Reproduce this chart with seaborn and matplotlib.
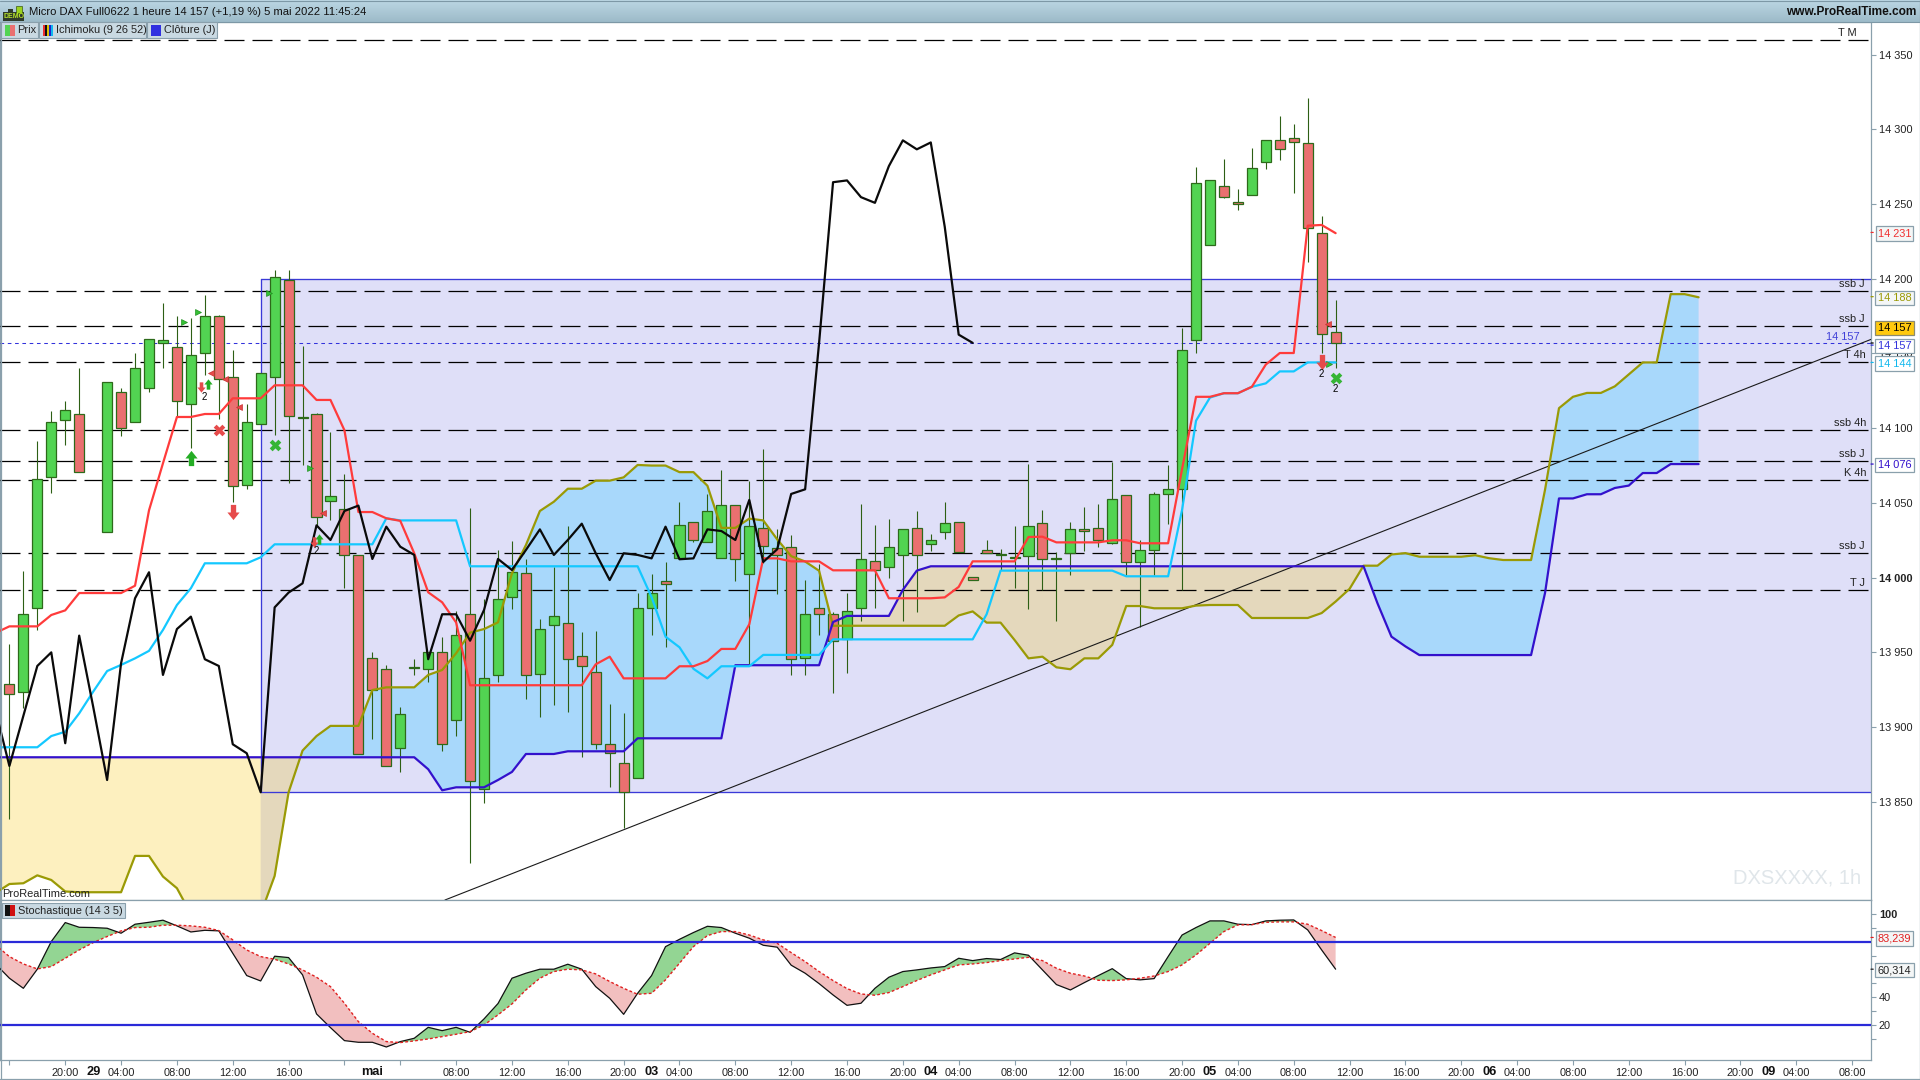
import numpy as np
import matplotlib
matplotlib.use("Agg")
import matplotlib.pyplot as plt
from matplotlib.patches import Rectangle
from matplotlib.path import Path
from matplotlib.transforms import blended_transform_factory
import seaborn as sns

nan = float("nan")

# ---------- price candles, one slot per hour (slot 6 is empty) ----------
open_ = [13928.6,13923.3,13979.5,14067.6,14105.7,14109.3,nan,14030.3,14124,14104,
 14126.7,14156.8,14154,14116,14150,14174.9,14134.5,14061.8,14103,14134,
 14199,14107.5,14109.3,14051,14046,14015,13946,13938.7,13885.8,13939.3,
 13938.7,13950,13905,13976,13858.4,13935,13987.3,14002.9,13935.3,13968,
 13969.9,13947.4,13936.7,13888.9,13875.8,13865.7,13979.9,13997.5,14013,14037,
 14024,14013,14048.4,14002.2,14033,14020,14020.7,13946,13980,13975.5,
 13959,13979.5,14010.9,14006.9,14015,14033,14022.3,14030.3,14037,14000.2,
 14018.3,14015,14013,14014.3,14036.4,14012.7,14016.3,14032.3,14033,14023,
 14055,14010.3,14018.3,14055.7,14059.5,14158.8,14222.8,14261.8,14251.5,14256.3,
 14277.8,14292.7,14294.5,14290.6,14230.5,14164.1]
close = [13922.4,13975.5,14065.8,14104,14112,14071,nan,14130.7,14100,14140,
 14160,14158.8,14118,14148.8,14174.9,14132.7,14061,14104,14136.7,14201,
 14108,14107,14040.4,14054.4,14015,13881.8,13924.6,13873.8,13909,13940.4,
 13950,13889,13961.4,13864,13933,13986,14004,13934.7,13965.4,13974,
 13945.4,13940.7,13888.5,13882.5,13856.4,13979.9,13989.5,13996,14035,14025,
 14044.4,14048.4,14012.3,14034.3,14021,14015,13945.4,13975.5,13975.5,13957.4,
 13978,14012.3,14004.9,14020.7,14032.3,14015,14025,14036.4,14017,13998.2,
 14016.3,14015,14013,14034.3,14012.3,14013.2,14032.3,14031,14025,14052.4,
 14010.3,14018.3,14055.7,14059.1,14152,14264.4,14265.8,14254.6,14250.3,14274,
 14292.6,14286.7,14291.3,14233.7,14162.7,14156.7]
high = [13955.4,14004.4,14091.5,14111.5,14118,14140,nan,14130.7,14126.7,14150,
 14160,14183.8,14175,14173.5,14189,14175.8,14152,14116,14136.7,14206,
 14206,14155,14110.4,14097.5,14069.3,14015,13950,13941.6,13913.5,13945.6,
 13950,13960.5,13977.7,14046.8,13985.7,14018.5,14024.5,14012.5,13972.3,14007.4,
 14034.6,13963.9,13964.3,13915.5,13909.2,13989.5,14002.5,14010.5,14050.6,14037,
 14056,14072,14048.4,14065,14086,14032.6,14028.5,13998.4,14009,13977,
 13989.5,14049,14035,14039,14032.3,14044.6,14029.2,14050.6,14037,14000.2,
 14025.2,14019,14034.6,14076,14045.3,14017,14037,14047.3,14049.3,14077.6,
 14055,14025,14057,14075.4,14167,14274.7,14265.8,14280,14259.9,14287.3,
 14292.6,14308.8,14303.5,14321,14242,14185.5]
low = [13838.3,13913,13965,14056.9,14088.8,14071,nan,14030.3,14095,14104,
 14124.5,14140,14107.8,14087,14135.6,14106,14050.8,14059.6,14103,14095.5,
 14063.6,14075.6,14034.5,14038.6,13993.3,13881.8,13892,13873.8,13870,13934.9,
 13930.4,13884,13894.3,13809.3,13849.5,13930.4,13979,13918.8,13907,13914.8,
 13910.3,13880.2,13885.4,13860.2,13832.3,13865.7,13961.6,13953.8,14013,14024,
 14024,14013,13998,13941.6,14010,13989,13934.9,13934.9,13961.6,13923,
 13936.4,13971,13980,14000,13971,13977.3,14017.8,14025.9,14017,13998.2,
 14016.3,14005,13993.3,13979,13991.8,13971,14002,14017.8,14020.7,14022.3,
 14001.8,13967,14001.8,14035.9,13991.5,14150.6,14222.8,14253.9,14246.2,14256.3,
 14273.7,14279.5,14257.7,14210.9,14150.3,14140.6]

# ---------- Ichimoku, every series starts one slot left of the first candle ----------
tenkan = [13963,13967.4,13967.4,13967.4,13975,13978.1,13989.7,13989.7,13989.7,13989.7,13994.6,
 14045,14076.5,14107.5,14107.5,14109.5,14109.5,14120,14120,14120,14128.7,
 14128.7,14128.7,14118.9,14118.9,14098.6,14043.9,14043.9,14039.7,14038,14016.3,
 13990.2,13983.5,13970,13928,13928,13928,13928,13928,13928,13928,
 13928,13928,13942,13947.1,13932.6,13932.6,13932.6,13932.6,13940.7,13940.7,
 13944.2,13952.3,13952.3,13968.8,14012.9,14012.9,14010.9,14010.9,14010.9,14004.9,
 14004.9,14004.9,14004.9,13986.2,13986.2,13986.2,13986.2,13986.8,13993.8,14010.9,
 14010.9,14010.9,14010.9,14027.2,14027.4,14023.6,14023.6,14023.6,14023.6,14025,
 14025,14023,14023,14023,14072.6,14121,14121,14123.4,14123.4,14127.7,
 14142.6,14150.3,14150.3,14235.5,14236,14230.5]
kijun = [13886.5,13886.5,13886.5,13886.5,13894,13896.9,13909.2,13923.7,13937.5,13941.6,13946,
 13951,13965,13981.7,13992.9,14009.6,14009.6,14009.6,14009.6,14013.6,14022.3,
 14022.3,14022.3,14022.3,14022.3,14022.3,14022.3,14022.3,14039.7,14038.3,14038.3,
 14038.3,14038.3,14038.3,14007.6,14007.6,14007.6,14007.6,14007.6,14007.6,14007.6,
 14007.6,14007.6,14007.6,14007.6,14007.6,14007.6,13987,13960.5,13953.4,13939,
 13932.6,13940.7,13940.7,13940.7,13948.3,13948.3,13948.3,13948.3,13948.3,13958.7,
 13958.7,13958.7,13958.7,13958.7,13958.7,13958.7,13958.7,13958.7,13958.7,13958.7,
 13975.5,14004.7,14004.7,14004.7,14004.7,14004.7,14004.7,14004.7,14004.7,14004.7,
 14000.9,14000.9,14000.9,14000.9,14045.3,14105,14120.5,14123.4,14123.4,14127.7,
 14130,14138,14138,14144,14144,14144]
chikou = [13911.4,13874,13907.5,13940.9,13950,13889.2,13961.2,13913.7,13864.6,13942.7,13986.2,
 14003.6,13934.9,13965.6,13973.9,13945.4,13940.9,13888.5,13882.5,13856.4,13980.1,
 13990,13996.2,14035,14025.2,14044.6,14048.2,14012.5,14034.1,14020.7,14015.2,
 13945.4,13975.5,13975.5,13957.8,13978.4,14012.5,14005.1,14018.5,14032.3,14015.2,
 14025.2,14036.1,14016.3,13998.4,14016.3,14015.2,14012.9,14034.1,14012.3,14012.9,
 14032.3,14031.2,14025.2,14052,14010.5,14019,14056,14059.1,14157.1,14264.6,
 14265.8,14254.6,14250.8,14275.4,14292.6,14286.6,14291.2,14234.8,14162.6,14157.1]
senkou_a = [13789,13795,13795.5,13800.8,13797.7,13790,13789.5,13789.5,13789.5,13789.5,13813.8,
 13813.8,13800,13792.2,13775,13770,13770,13770,13770,13775,13800.4,
 13856.4,13884.3,13894,13900.8,13900.8,13900.8,13924.8,13926.6,13926.6,13926.6,
 13934.9,13938.2,13949.4,13963.2,13965.6,13970.1,14002.9,14021.8,14044.6,14050.8,
 14059.5,14059.5,14064.9,14064.9,14067.1,14075.4,14075,14075,14070.6,14070.6,
 14061.5,14033.3,14033.3,14039.5,14038.3,14025.6,14014.4,14010.8,14004.6,13967.8,
 13967.8,13967.8,13967.8,13967.8,13967.8,13967.8,13967.8,13967.8,13974.7,13977.4,
 13969.9,13969.9,13958.3,13946,13947.1,13940,13938.7,13946,13946,13955,
 13981,13981,13979.5,13979.5,13979.5,13981.3,13981.7,13981.7,13981.7,13973,
 13973,13973,13973,13973,13976.3,13984,13992.5,14008,14008,14015.5,
 14016.4,14014,14014,14014,14014,14015,14013,14011.8,14011.8,14011.8,
 14058.8,14113.4,14121,14123.6,14123.6,14128,14136,14144,14144,14189.7,
 14189.7,14187.6]
senkou_b = [13879.8,13879.8,13879.8,13879.8,13879.8,13879.8,13879.8,13879.8,13879.8,13879.8,13879.8,
 13879.8,13879.8,13879.8,13879.8,13879.8,13879.8,13879.8,13879.8,13879.8,13879.8,
 13879.8,13879.8,13879.8,13879.8,13879.8,13879.8,13879.8,13879.8,13879.8,13879.8,
 13871.8,13857.7,13859.7,13859.7,13859.7,13864.6,13870,13882,13882,13882,
 13883.8,13883.8,13883.8,13883.8,13883.8,13892.5,13892.5,13892.5,13892.5,13892.5,
 13892.5,13892.5,13941.4,13941.4,13941.4,13941.4,13941.4,13941.4,13941.4,13970.3,
 13974.4,13974.4,13974.4,13974.4,13991.8,14004.7,14007.6,14007.6,14007.6,14007.6,
 14007.6,14007.6,14007.6,14007.6,14007.6,14007.6,14007.6,14007.6,14007.6,14007.6,
 14007.6,14007.6,14007.6,14007.6,14007.6,14007.6,14007.6,14007.6,14007.6,14007.6,
 14007.6,14007.6,14007.6,14007.6,14007.6,14007.6,14007.6,14007.6,13982.8,13960.5,
 13954,13948.2,13948.2,13948.2,13948.2,13948.2,13948.2,13948.2,13948.2,13948.2,
 13989.7,14053,14053,14055.8,14055.8,14060,14061.6,14070,14070,14076,
 14076,14076]

# ---------- stochastic (14 3 5) ----------
stoch_k = [64.1,53.8,46.5,60.3,80.3,94,90.6,90.4,89.9,86.3,92.8,
 94.2,95.7,91.6,87.2,88.4,88,71.8,55.7,51.8,69.7,
 68.7,56.2,28,18.1,8.7,7.5,7.5,4.1,8,10.4,
 18.3,15.9,18.3,14.7,24.4,35.5,53.8,57.4,60.3,60.3,
 63.9,60.3,47.7,39.3,27.7,42.9,55.7,76.6,81.9,86.8,
 91.3,90.4,86.3,82.7,77.6,76.2,63.2,57.4,49.9,41.7,
 34.2,35.7,46.5,54.5,58.6,59.8,61.2,62.2,68.2,66.5,
 68,67.3,72.1,70.4,59.8,49.2,45.3,50.6,55.7,60.7,
 53.5,52.6,53.5,69.4,85,90.4,95.2,95.2,92.8,92.5,
 95.2,95.7,95.9,88.7,74.2,60.314]
stoch_d = [77.9,69.4,64.1,60.5,62.2,68.2,74.2,79.5,83.9,88,90.4,
 90.6,92.1,92.1,91.6,90.6,88.2,81.5,74.2,69.4,67.5,
 64.1,59.8,54.5,47.7,35.7,22.4,14,8,7.3,8.5,
 9.9,11.6,13.3,15.2,20,27.3,35.2,45.3,53.8,58.6,
 60.3,59.8,56.9,51.4,46.5,42.2,42.9,52.6,64.6,76.6,
 84.6,87.5,87.5,85,81.5,79,72.3,65.8,58.6,52.1,
 46.3,42.4,41.5,43.4,47.7,52.1,56.2,59.8,63.4,64.1,
 65.1,66.5,67.7,68.9,66.5,61,57.4,55.4,52.3,52.1,
 52.6,53.8,55.4,58.6,63.4,70.6,79,87.5,92.3,92.5,
 94.2,94.5,94.5,92.8,88.2,83.239]

# ---------- levels ----------
level_values = [14359.5,14191.6,14168.2,14144.1,14098.6,14077.9,14065.2,14016.3,13991.5]
level_labels = ["T M","ssb J","ssb J","T 4h","ssb 4h","ssb J","K 4h","ssb J","T J"]
close_day = 14156.8
zone_low, zone_high, zone_start = 13856.4, 14199.6, 18
trend_x, trend_y = [31.2,133.4], [13784.3,14159.6]

# ---------- signals ----------
tri_up_x, tri_up_y = [12.54,13.54,18.57,21.55,94.5], [14171,14177.5,14190.7,14073.2,14142.7]
tri_dn_x, tri_dn_y = [14.42,15.44,16.43,22.43,94.46], [14136.7,14132.7,14114.4,14043,14169.4]
big_up_x, big_up_y = [13], [14079.9]
small_up_x, small_up_y = [14.2,22.2], [14129.4,14025.6]
big_dn_x, big_dn_y = [16,94], [14043.7,14144]
small_dn_x, small_dn_y = [13.7,21.8], [14127.8,14024]
cross_g_x, cross_g_y = [19,95], [14088.6,14133.5]
cross_r_x, cross_r_y = [15], [14098.6]
two_x, two_y = [13.95,21.95,94,95], [14121,14017.8,14136,14126]

# ---------- axis texts ----------
price_ticks = [13850,13900,13950,14000,14050,14100,14150,14200,14250,14300,14350]
time_pos = [4,8,12,16,20,32,36,40,44,48,52,56,60,64,68,72,76,80,84,88,92,96,100,104,108,112,116,120,124,128,132]
time_lab = ["20:00","04:00","08:00","12:00","16:00","08:00","12:00","16:00","20:00","04:00","08:00","12:00","16:00",
            "20:00","04:00","08:00","12:00","16:00","20:00","04:00","08:00","12:00","16:00","20:00","04:00","08:00",
            "12:00","16:00","20:00","04:00","08:00"]
day_pos = [6,26,46,66,86,106,126]
day_lab = ["29","mai","03","04","05","06","09"]

n = len(open_)
for name, s, m in [("open",open_,96),("close",close,96),("high",high,96),("low",low,96),("tenkan",tenkan,97),
                   ("kijun",kijun,97),("chikou",chikou,71),("a",senkou_a,123),("b",senkou_b,123),
                   ("k",stoch_k,97),("d",stoch_d,97)]:
    assert len(s) == m, f"{name} {len(s)}"

sns.set_theme(style="white")
plt.rcParams["font.family"] = ["Liberation Sans", "DejaVu Sans"]
plt.rcParams["font.size"] = 7.9

W, H = 1920, 1080
fig = plt.figure(figsize=(W/100, H/100), dpi=100, facecolor="white")
AX_R = 1871
ax = fig.add_axes([0, 1-900/H, AX_R/W, (900-22)/H])
sx = fig.add_axes([0, 1-1060/H, AX_R/W, 160/H], sharex=ax)

ax.set_xlim(-0.673, 133.35)
ax.set_ylim(13784.3, 14371.8)
sx.set_ylim(-5.3, 110.3)

FRAME = "#8aa0ac"
for a in (ax, sx):
    a.set_facecolor("white")
    a.yaxis.tick_right()
    for s in a.spines.values():
        s.set_color(FRAME); s.set_linewidth(0.9)
    a.spines["left"].set_visible(True)

# zone and cloud
ax.add_patch(Rectangle((zone_start, zone_low), 140, zone_high-zone_low, fc="#dfdff8", ec="none", zorder=1))
xc = np.arange(-1, 122)
A, B = np.array(senkou_a), np.array(senkou_b)
ax.fill_between(xc, A, B, where=(A <= B)&(xc <= 18), interpolate=True, color="#fdf0bf", lw=0, zorder=2)
ax.fill_between(xc, A, B, where=(A <= B)&(xc >= 18), interpolate=True, color="#e4d8bc", lw=0, zorder=2)
ax.fill_between(xc, A, B, where=A >= B, interpolate=True, color="#a8d8fb", lw=0, zorder=2)

# levels
for v in level_values:
    ax.axhline(v, color="black", lw=0.9, ls=(0, (16, 6.4)), zorder=3)
ax.axhline(close_day, color="#3232dc", lw=0.75, ls=(0, (3.5, 3.5)), zorder=3)
ax.plot([zone_start, zone_start], [zone_low, zone_high], color="#3a3ad8", lw=0.95, zorder=3)
ax.axhline(zone_high, xmin=(zone_start+0.673)/134.02, color="#3a3ad8", lw=0.95, zorder=3)
ax.axhline(zone_low, xmin=(zone_start+0.673)/134.02, color="#3a3ad8", lw=0.95, zorder=3)

# candles
xs = np.arange(n)
O, C, Hi, Lo = map(np.array, (open_, close, high, low))
EDGE = "#2d6a1a"
ax.vlines(xs, Lo, Hi, color="#2d5f14", lw=0.8, zorder=4)
up = C >= O
dn = C < O
ax.bar(xs[up], np.maximum(C-O, 0.6)[up], bottom=O[up], width=0.72, color="#52d452", edgecolor=EDGE, lw=0.9, zorder=5)
ax.bar(xs[dn], (O-C)[dn], bottom=C[dn], width=0.72, color="#ea7070", edgecolor=EDGE, lw=0.9, zorder=5)

# trend line
sns.lineplot(x=trend_x, y=trend_y, ax=ax, color="#1a1a1a", lw=0.8, zorder=6, legend=False, estimator=None, sort=False)

# Ichimoku lines
x_line = np.arange(-1, n)
kw = dict(ax=ax, legend=False, estimator=None, sort=False)
sns.lineplot(x=xc, y=senkou_a, color="#9a9a05", lw=1.6, zorder=6, **kw)
sns.lineplot(x=xc, y=senkou_b, color="#3311cc", lw=1.6, zorder=6, **kw)
sns.lineplot(x=x_line, y=kijun, color="#14c8ff", lw=1.6, zorder=6.2, **kw)
sns.lineplot(x=x_line, y=tenkan, color="#ff3b3b", lw=1.6, zorder=6.3, **kw)
sns.lineplot(x=np.arange(-1, 70), y=chikou, color="#0a0a0a", lw=1.6, zorder=6.4, **kw)

# signals
arrow_up = Path([(-.35,-1),(.35,-1),(.35,0),(.8,0),(0,1),(-.8,0),(-.35,0),(-.35,-1)])
arrow_dn = Path([(-.35,1),(.35,1),(.35,0),(.8,0),(0,-1),(-.8,0),(-.35,0),(-.35,1)])
G, R = "#25ad25", "#e64b4b"
ax.scatter(tri_up_x, tri_up_y, marker=">", s=18, color="#35c035", edgecolor="#1f8f1f", lw=0.5, zorder=7)
ax.scatter(tri_dn_x, tri_dn_y, marker="<", s=18, color=R, edgecolor="#c83030", lw=0.5, zorder=7)
ax.scatter(big_up_x, big_up_y, marker=arrow_up, s=120, color=G, lw=0, zorder=7)
ax.scatter(small_up_x, small_up_y, marker=arrow_up, s=55, color=G, lw=0, zorder=7)
ax.scatter(big_dn_x, big_dn_y, marker=arrow_dn, s=120, color=R, lw=0, zorder=7)
ax.scatter(small_dn_x, small_dn_y, marker=arrow_dn, s=55, color=R, lw=0, zorder=7)
ax.scatter(cross_g_x, cross_g_y, marker="X", s=70, color="#35b535", lw=0, zorder=7)
ax.scatter(cross_r_x, cross_r_y, marker="X", s=70, color=R, lw=0, zorder=7)
for x, y in zip(two_x, two_y):
    ax.text(x, y, "2", ha="center", va="center", color="black", fontsize=7, zorder=8)

# level labels
trans = blended_transform_factory(ax.transAxes, ax.transData)
for v, t in zip(level_values, level_labels):
    rx = {"T M":1857,"ssb J":1865,"T J":1865}.get(t, 1866)
    ax.annotate(t, xy=(rx/AX_R, v), xycoords=trans, xytext=(0, 5.4), textcoords="offset points",
                ha="right", va="center", color="#222222", fontsize=7.9, zorder=9)
ax.annotate("14 157", xy=(1860/AX_R, close_day), xycoords=trans, xytext=(0, 4.4), textcoords="offset points",
            ha="right", va="center", color="#4040d8", fontsize=7.9, zorder=9)

# price axis
ax.set_yticks(price_ticks)
ax.set_yticklabels([f"{p//1000} {p%1000:03d}" for p in price_ticks], color="#222222", fontsize=7.9)
ax.tick_params(axis="y", which="major", right=True, length=3.6, width=0.8, color=FRAME, pad=2)
for lab, p in zip(ax.get_yticklabels(), price_ticks):
    if p == 14000:
        lab.set_fontweight("bold")
plt.setp(ax.get_xticklabels(), visible=False)
ax.tick_params(axis="x", bottom=False)
ax.set_xlabel(""); ax.set_ylabel("")

# value boxes on the price axis
def box(a, y, txt, col, fc="#f4f6f6", ec=FRAME, y_off=-0.8):
    t = blended_transform_factory(a.transAxes, a.transData)
    a.annotate(txt, xy=(1894.5/AX_R, y), xycoords=t, xytext=(0, y_off), textcoords="offset points",
               ha="center", va="center", color=col, fontsize=7.9, annotation_clip=False, zorder=20,
               bbox=dict(boxstyle="square,pad=0.2", fc=fc, ec=ec, lw=0.9))
    a.annotate("", xy=(1.0, y), xycoords=t, xytext=(1876/AX_R, y), textcoords=t,
               arrowprops=dict(arrowstyle="-", color=col, lw=0.9), annotation_clip=False)
box(ax, 14231, "14 231", "#f03030")
box(ax, 14188, "14 188", "#9a9a05")
box(ax, 14157, "14 157", "#000000", fc="#ffc90e", ec="#8a8a70", y_off=10.8)
box(ax, 14155.6, "14 157", "#3232dc", fc="white")
box(ax, 14144, "14 144", "#10b8ee", fc="white")
box(ax, 14076, "14 076", "#3311cc", fc="white")

# stochastic panel
K, D = np.array(stoch_k), np.array(stoch_d)
sx.fill_between(x_line, K, D, where=K >= D, interpolate=True, color="#93d593", lw=0, zorder=2)
sx.fill_between(x_line, K, D, where=K <= D, interpolate=True, color="#f2bfbf", lw=0, zorder=2)
sns.lineplot(x=x_line, y=stoch_k, ax=sx, color="#111111", lw=0.9, zorder=3, legend=False, estimator=None, sort=False)
sns.lineplot(x=x_line, y=stoch_d, ax=sx, color="#e02020", lw=1.0, ls=(0, (2, 1.6)), zorder=3.1, legend=False, estimator=None, sort=False)
sx.axhline(80, color="#2a2ad8", lw=1.6, zorder=4)
sx.axhline(20, color="#2a2ad8", lw=1.6, zorder=4)
s_ticks = [10,20,30,40,50,70,90,100]
sx.set_yticks(s_ticks)
sx.set_yticklabels(["", "20", "", "40", "", "", "", "100"], color="#222222", fontsize=7.9)
sx.tick_params(axis="y", right=True, length=3.6, width=0.8, color=FRAME, pad=2)
sx.get_yticklabels()[-1].set_fontweight("bold")
box(sx, 83.239, "83,239", "#e02020")
box(sx, 60.314, "60,314", "#222222")

tick_all = [0,24,28] + time_pos
tick_lab = ["","",""] + time_lab
sx.set_xticks(tick_all)
sx.set_xticklabels(tick_lab, color="#222222", fontsize=7.9)
sx.tick_params(axis="x", bottom=True, length=3.6, width=0.8, color=FRAME, pad=1.8)
sx.set_xlabel(""); sx.set_ylabel("")
tx = blended_transform_factory(sx.transData, sx.transAxes)
for p, t in zip(day_pos, day_lab):
    sx.text(p, -0.076, t, transform=tx, ha="center", va="center", fontsize=9.2, fontweight="bold", color="#111111", clip_on=False)

# ---------- window chrome, drawn in pixel coordinates ----------
ov = fig.add_axes([0, 0, 1, 1], zorder=30)
ov.set_xlim(0, W); ov.set_ylim(H, 0); ov.axis("off"); ov.patch.set_alpha(0)

grad = np.linspace(0, 1, 22).reshape(-1, 1)
cols = np.array([0xbb,0xd6,0xe3])[None,None,:]*(1-grad[...,None]) + np.array([0x9d,0xbb,0xc9])[None,None,:]*grad[...,None]
ov.imshow(cols.astype(np.uint8), extent=(0, W, 22, 0), aspect="auto", zorder=1)
ov.set_xlim(0, W); ov.set_ylim(H, 0)
ov.plot([0, W], [22, 22], color="#7d98a6", lw=0.8, zorder=2)
ov.plot([0, W], [0.5, 0.5], color="#7d98a6", lw=0.8, zorder=2)
ov.plot([0.5, 0.5], [22, 1080], color=FRAME, lw=0.9, zorder=2)
ov.plot([1919.5, 1919.5], [0, 1080], color=FRAME, lw=0.9, zorder=2)
ov.plot([0, W], [1079, 1079], color=FRAME, lw=0.9, zorder=2)

ov.add_patch(Rectangle((3, 12), 21, 9, fc="#2f3a2a", ec="none", zorder=3))
ov.add_patch(Rectangle((16, 6), 6, 7, fc="#9ad21e", ec="#3a5a10", lw=0.5, zorder=3))
ov.add_patch(Rectangle((8, 9), 5, 4, fc="#2f3a2a", ec="none", zorder=3))
ov.text(13.5, 17, "DEMO", color="#b8e62a", fontsize=5, fontweight="bold", ha="center", va="center", zorder=4)
ov.text(29, 12, "Micro DAX Full0622 1 heure 14 157 (+1,19 %) 5 mai 2022 11:45:24", color="#111111",
        fontsize=8.15, ha="left", va="center", zorder=4)
ov.text(1916, 12, "www.ProRealTime.com", color="#111111", fontsize=8.6, fontweight="bold", ha="right", va="center", zorder=4)

BTN, BED = "#c9d9e2", "#8aa0ac"
for x0, x1 in [(1, 38), (39, 146), (147, 217)]:
    ov.add_patch(Rectangle((x0, 22), x1-x0, 16, fc=BTN, ec=BED, lw=0.8, zorder=3))
ov.add_patch(Rectangle((5, 25), 5, 11, fc="#52d452", lw=0, zorder=4))
ov.add_patch(Rectangle((10, 25), 5, 11, fc="#ea7070", lw=0, zorder=4))
for i, c in enumerate(["#ee3030", "#111111", "#e0c000", "#2020cc", "#10b8ee"]):
    ov.add_patch(Rectangle((43+i*2, 25), 2, 11, fc=c, lw=0, zorder=4))
ov.add_patch(Rectangle((151, 25), 10, 11, fc="#3030e0", lw=0, zorder=4))
ov.text(17.5, 30, "Prix", color="#222222", fontsize=7.9, va="center", zorder=5)
ov.text(55.5, 30, "Ichimoku (9 26 52)", color="#222222", fontsize=7.9, va="center", zorder=5)
ov.text(163.5, 30, "Clôture (J)", color="#222222", fontsize=7.9, va="center", zorder=5)

ov.add_patch(Rectangle((2, 903), 123, 15, fc=BTN, ec=BED, lw=0.8, zorder=3))
ov.add_patch(Rectangle((5, 905), 5, 11, fc="#111111", lw=0, zorder=4))
ov.add_patch(Rectangle((10, 905), 5, 11, fc="#d01010", lw=0, zorder=4))
ov.text(17.5, 910.5, "Stochastique (14 3 5)", color="#222222", fontsize=7.9, va="center", zorder=5)

ov.text(2, 894, "ProRealTime.com", color="#222222", fontsize=7.9, va="center", zorder=5)
ov.text(1861, 878, "DXSXXXX, 1h", color="#e0e6ea", fontsize=14.5, ha="right", va="center", zorder=0.5)

fig.savefig("out.png", dpi=100)
